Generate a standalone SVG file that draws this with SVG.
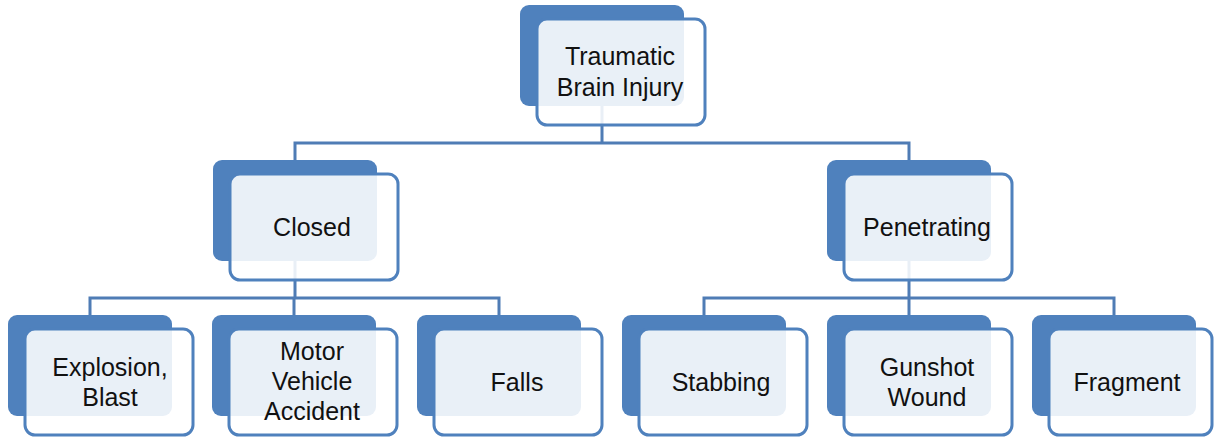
<svg xmlns="http://www.w3.org/2000/svg" width="1214" height="437" viewBox="0 0 1214 437">
<style>
.back{fill:#4f81bd;}
.front{fill:#ffffff;fill-opacity:0.88;stroke:#4f81bd;stroke-width:3;}
.conn{fill:none;stroke:#4f7cb5;stroke-width:3;}
text{font-family:"Liberation Sans",Arial,sans-serif;font-size:25px;fill:#111111;text-anchor:middle;}
</style>
<rect width="1214" height="437" fill="#ffffff"/>
<g id="connectors">
<path class="conn" d="M602 106 V143 M295 160 V143 H909 V160"/>
<path class="conn" d="M295 261 V298 M90 315 V298 H499 V315 M294 298 V315"/>
<path class="conn" d="M909 261 V298 M704 315 V298 H1114 V315 M909 298 V315"/>
</g>
<g id="node-tbi">
<rect class="back" x="520" y="5" width="164" height="101" rx="9"/>
<rect class="front" x="537" y="19" width="168" height="106" rx="10"/>
<text x="620" y="65">Traumatic</text>
<text x="620" y="96">Brain Injury</text>
</g>
<g id="node-closed">
<rect class="back" x="213" y="160" width="164" height="101" rx="9"/>
<rect class="front" x="230" y="174" width="168" height="106" rx="10"/>
<text x="312" y="236">Closed</text>
</g>
<g id="node-penetrating">
<rect class="back" x="827" y="160" width="164" height="101" rx="9"/>
<rect class="front" x="844" y="174" width="168" height="106" rx="10"/>
<text x="927" y="236">Penetrating</text>
</g>
<g id="node-explosion">
<rect class="back" x="8" y="315" width="164" height="101" rx="9"/>
<rect class="front" x="25" y="329" width="168" height="106" rx="10"/>
<text x="110" y="376">Explosion,</text>
<text x="110" y="406">Blast</text>
</g>
<g id="node-motor">
<rect class="back" x="212" y="315" width="164" height="101" rx="9"/>
<rect class="front" x="229" y="329" width="168" height="106" rx="10"/>
<text x="312" y="360">Motor</text>
<text x="312" y="390">Vehicle</text>
<text x="312" y="420">Accident</text>
</g>
<g id="node-falls">
<rect class="back" x="417" y="315" width="164" height="101" rx="9"/>
<rect class="front" x="434" y="329" width="168" height="106" rx="10"/>
<text x="517" y="391">Falls</text>
</g>
<g id="node-stabbing">
<rect class="back" x="622" y="315" width="164" height="101" rx="9"/>
<rect class="front" x="639" y="329" width="168" height="106" rx="10"/>
<text x="721" y="391">Stabbing</text>
</g>
<g id="node-gunshot">
<rect class="back" x="827" y="315" width="164" height="101" rx="9"/>
<rect class="front" x="844" y="329" width="168" height="106" rx="10"/>
<text x="927" y="376">Gunshot</text>
<text x="927" y="406">Wound</text>
</g>
<g id="node-fragment">
<rect class="back" x="1032" y="315" width="164" height="101" rx="9"/>
<rect class="front" x="1049" y="329" width="163" height="106" rx="10"/>
<text x="1127" y="391">Fragment</text>
</g>
</svg>
